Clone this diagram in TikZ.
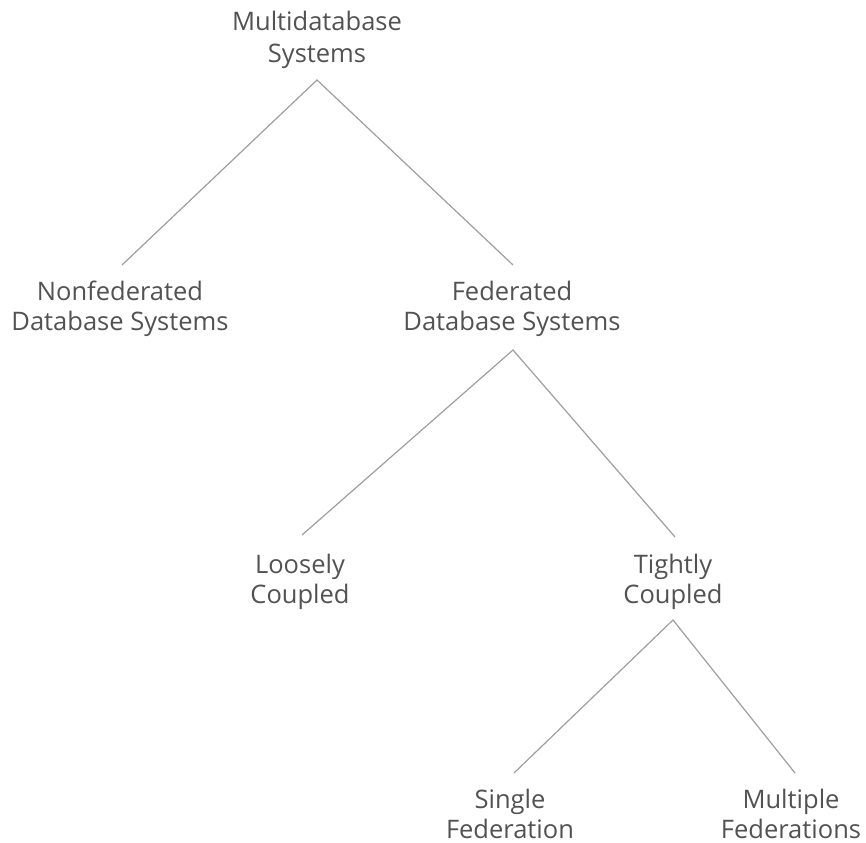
\documentclass[tikz,border=0pt]{standalone}
\usepackage{fontspec}
\setmainfont{Open Sans}
\begin{document}
\begin{tikzpicture}[x=1pt,y=-1pt,
  lbl/.style={align=center,anchor=north,text=black!68,font=\fontsize{25.5}{30}\selectfont,inner sep=0pt},
  branch/.style={draw=black!38,line width=1.2pt}]
\useasboundingbox (0,0) rectangle (866,842);
% category labels
\node[lbl,font=\fontsize{25.5}{32}\selectfont] (mdb) at (317,10.6) {Multidatabase\\Systems};
\node[lbl] (nfd) at (120,280.6) {Nonfederated\\Database Systems};
\node[lbl] (fdb) at (512,280.6) {Federated\\Database Systems};
\node[lbl] (lc) at (300,553.6) {Loosely\\Coupled};
\node[lbl] (tc) at (673,553.6) {Tightly\\Coupled};
\node[lbl] (sf) at (510,788.6) {Single\\Federation};
\node[lbl] (mf) at (791,788.6) {Multiple\\Federations};
% branch points just below / above the labels
\coordinate (mdbB) at (317,80);
\coordinate (nfdT) at (122,265);
\coordinate (fdbT) at (513,265);
\coordinate (fdbB) at (513,350);
\coordinate (lcT) at (302,535);
\coordinate (tcT) at (675,537);
\coordinate (tcB) at (673,620);
\coordinate (sfT) at (514,773);
\coordinate (mfT) at (795,773);
\draw[branch] (nfdT) -- (mdbB) -- (fdbT);
\draw[branch] (lcT) -- (fdbB) -- (tcT);
\draw[branch] (sfT) -- (tcB) -- (mfT);
\end{tikzpicture}
\end{document}
